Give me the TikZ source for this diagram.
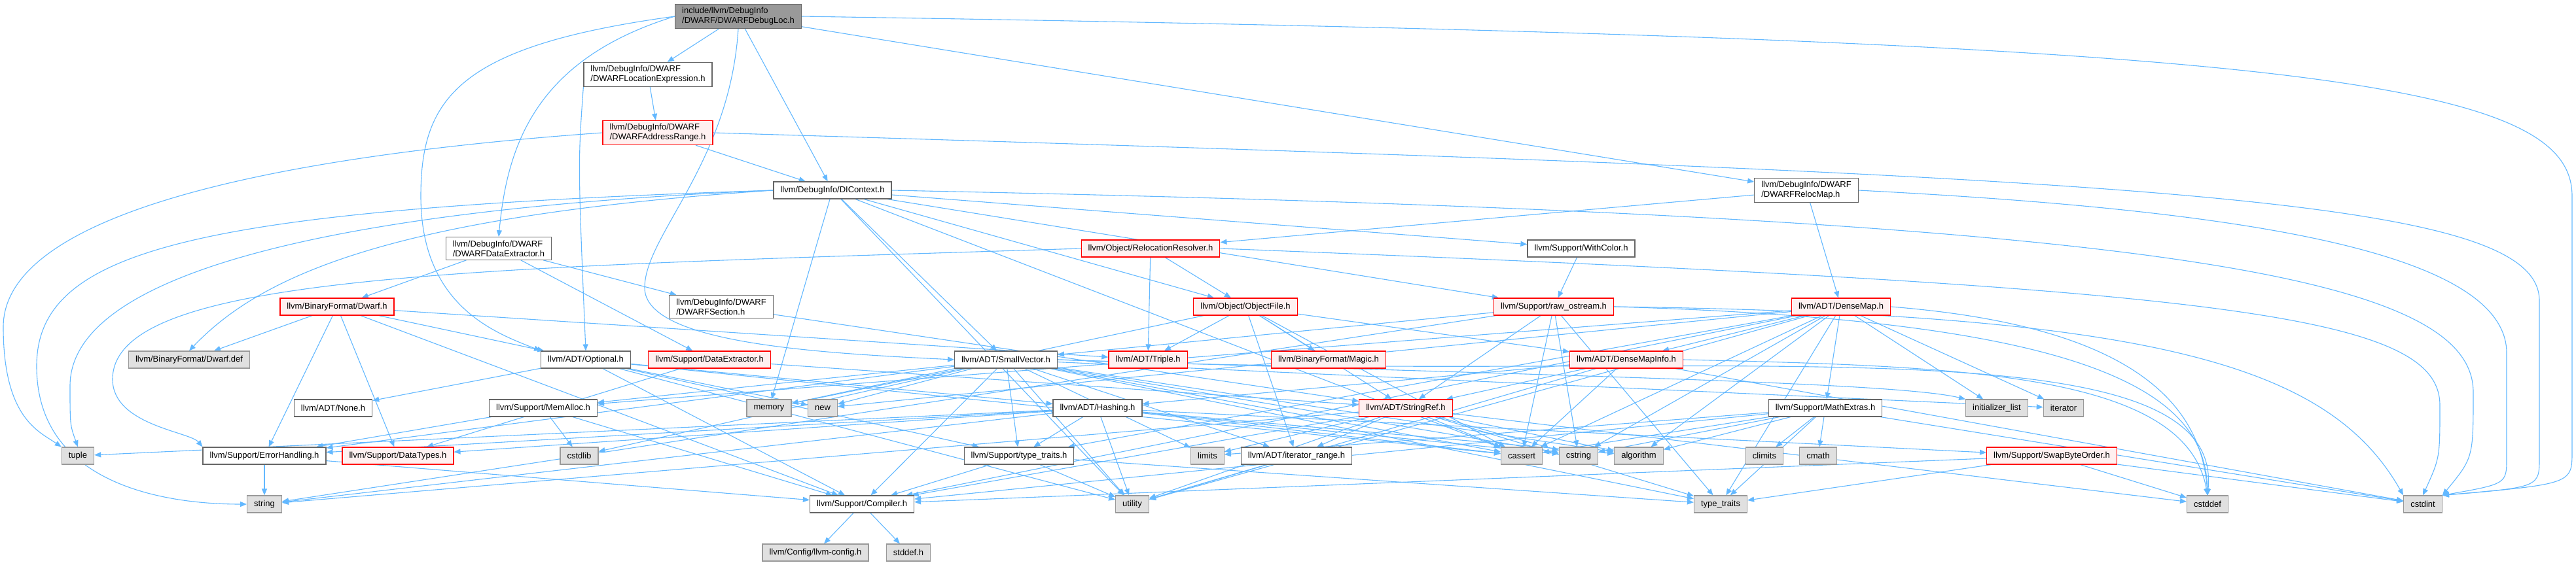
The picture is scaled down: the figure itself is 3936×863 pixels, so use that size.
\documentclass[tikz,border=0pt]{standalone}
\usepackage{fontspec}
\setmainfont{Liberation Sans}
\usetikzlibrary{arrows.meta,backgrounds}

\definecolor{depblue}{HTML}{63B8FF}
\definecolor{boxgray}{HTML}{666666}
\definecolor{sysgray}{HTML}{999999}
\definecolor{sysfill}{HTML}{E0E0E0}
\definecolor{redfill}{HTML}{FFF0F0}
\definecolor{rootfill}{HTML}{999999}

\begin{document}
\begin{tikzpicture}[x=1pt, y=-1pt,
  hdr/.style={draw=boxgray, fill=white, line width=1.2pt, align=left,
    font=\fontsize{13}{15}\selectfont, inner xsep=10.5pt, inner ysep=5pt, minimum height=26pt},
  hdrred/.style={hdr, draw=red, fill=redfill},
  hdrsys/.style={hdr, draw=sysgray, fill=sysfill},
  hdrroot/.style={hdr, fill=rootfill},
  dep/.style={draw=depblue, line width=1.1pt, -{Triangle[length=10pt, width=8pt]}}]
\useasboundingbox (0,0) rectangle (3936,863);

% headers, top to bottom
\node[hdrroot] (root) at (1128,25) {include/llvm/DebugInfo\\/DWARF/DWARFDebugLoc.h};
\node[hdr] (locexpr) at (990,114) {llvm/DebugInfo/DWARF\\/DWARFLocationExpression.h};
\node[hdrred] (addrrange) at (1005,203) {llvm/DebugInfo/DWARF\\/DWARFAddressRange.h};
\node[hdr] (dicontext) at (1272,291) {llvm/DebugInfo/DIContext.h};
\node[hdr] (relocmap) at (2760,291) {llvm/DebugInfo/DWARF\\/DWARFRelocMap.h};
\node[hdr] (dwextract) at (762,380) {llvm/DebugInfo/DWARF\\/DWARFDataExtractor.h};
\node[hdrred] (relocres) at (1758,380) {llvm/Object/RelocationResolver.h};
\node[hdr] (withcolor) at (2416,380) {llvm/Support/WithColor.h};
\node[hdrred] (dwarfh) at (515,469) {llvm/BinaryFormat/Dwarf.h};
\node[hdr] (dwsection) at (1102,469) {llvm/DebugInfo/DWARF\\/DWARFSection.h};
\node[hdrred] (objectfile) at (1903,469) {llvm/Object/ObjectFile.h};
\node[hdrred] (rawostream) at (2374,469) {llvm/Support/raw\_ostream.h};
\node[hdrred] (densemap) at (2813,469) {llvm/ADT/DenseMap.h};
\node[hdrsys] (dwarfdef) at (289,550) {llvm/BinaryFormat/Dwarf.def};
\node[hdr] (optional) at (895,550) {llvm/ADT/Optional.h};
\node[hdrred] (supextract) at (1084,550) {llvm/Support/DataExtractor.h};
\node[hdr] (smallvector) at (1537,550) {llvm/ADT/SmallVector.h};
\node[hdrred] (triple) at (1754,550) {llvm/ADT/Triple.h};
\node[hdrred] (magic) at (2030,550) {llvm/BinaryFormat/Magic.h};
\node[hdrred] (densemapinfo) at (2485,550) {llvm/ADT/DenseMapInfo.h};
\node[hdr] (none) at (509,624) {llvm/ADT/None.h};
\node[hdr] (memalloc) at (830,624) {llvm/Support/MemAlloc.h};
\node[hdrsys] (memory) at (1175,624) {memory};
\node[hdrsys] (new) at (1257,624) {new};
\node[hdr] (hashing) at (1677,624) {llvm/ADT/Hashing.h};
\node[hdrred] (stringref) at (2148,624) {llvm/ADT/StringRef.h};
\node[hdr] (mathextras) at (2789,624) {llvm/Support/MathExtras.h};
\node[hdrsys] (initlist) at (3051,624) {initializer\_list};
\node[hdrsys] (iterator) at (3153,624) {iterator};
\node[hdrsys] (tuple) at (119,697) {tuple};
\node[hdr] (errorhandling) at (404,697) {llvm/Support/ErrorHandling.h};
\node[hdrred] (datatypes) at (608,697) {llvm/Support/DataTypes.h};
\node[hdrsys] (cstdlib) at (885,697) {cstdlib};
\node[hdr] (typetraitsh) at (1557,697) {llvm/Support/type\_traits.h};
\node[hdrsys] (limits) at (1845,697) {limits};
\node[hdr] (iterrange) at (1981,697) {llvm/ADT/iterator\_range.h};
\node[hdrsys] (cassert) at (2325,697) {cassert};
\node[hdrsys] (cstring) at (2412,697) {cstring};
\node[hdrsys] (algorithm) at (2504,697) {algorithm};
\node[hdrsys] (climits) at (2696,697) {climits};
\node[hdrsys] (cmath) at (2778,697) {cmath};
\node[hdrred] (swapbyte) at (3135,697) {llvm/Support/SwapByteOrder.h};
\node[hdrsys] (string) at (404,771) {string};
\node[hdr] (compiler) at (1317,771) {llvm/Support/Compiler.h};
\node[hdrsys] (utility) at (1730,771) {utility};
\node[hdrsys] (typetraits) at (2629,771) {type\_traits};
\node[hdrsys] (cstddef) at (3373,771) {cstddef};
\node[hdrsys] (cstdint) at (3702,771) {cstdint};
\node[hdrsys] (llvmconfig) at (1246,845) {llvm/Config/llvm-config.h};
\node[hdrsys] (stddefh) at (1388,845) {stddef.h};

\begin{scope}[on background layer]
% include edges
\foreach \b in {locexpr,dicontext,relocmap} \draw[dep] (root) -- (\b);
\draw[dep] (root.west) .. controls (700,70) and (643,150) .. (643,300) .. controls (643,470) and (760,510) .. (optional.north west);
\draw[dep] (root.west) .. controls (820,90) and (775,220) .. (dwextract.north);
\draw[dep] (root.south) .. controls (1115,250) and (985,360) .. (985,440) .. controls (985,525) and (1250,540) .. (smallvector.west);
\draw[dep] (root.east) .. controls (3500,60) and (3930,120) .. (3930,300) -- (3930,690) .. controls (3930,740) .. (cstdint.north east);
\draw[dep] (locexpr) -- (addrrange);
\draw[dep] (locexpr.south west) .. controls (883,250) .. (optional.north);
\draw[dep] (addrrange) -- (dicontext);
\draw[dep] (addrrange.west) .. controls (400,240) and (5,330) .. (5,500) .. controls (5,640) and (60,660) .. (tuple.north west);
\draw[dep] (addrrange.east) .. controls (3300,270) and (3880,300) .. (3880,460) -- (3880,700) .. controls (3880,745) .. (cstdint.north east);
\foreach \b in {objectfile,smallvector,withcolor,rawostream,cassert,memory,utility} \draw[dep] (dicontext) -- (\b);
\draw[dep] (dicontext.west) .. controls (300,320) and (56,380) .. (56,560) .. controls (56,740) and (250,771) .. (string.west);
\draw[dep] (dicontext.west) .. controls (500,320) and (107,420) .. (107,590) .. controls (107,650) .. (tuple.north);
\draw[dep] (dicontext.west) .. controls (600,330) and (400,420) .. (dwarfdef.north);
\draw[dep] (dicontext.east) .. controls (3300,330) and (3779,420) .. (3779,600) .. controls (3779,700) .. (cstdint.north east);
\foreach \b in {relocres,densemap} \draw[dep] (relocmap) -- (\b);
\draw[dep] (relocmap.east) .. controls (3400,320) and (3830,380) .. (3830,540) -- (3830,700) .. controls (3830,740) .. (cstdint.north east);
\foreach \b in {dwarfh,dwsection,supextract} \draw[dep] (dwextract) -- (\b);
\foreach \b in {dwarfdef,optional,triple,compiler,errorhandling,datatypes} \draw[dep] (dwarfh) -- (\b);
\draw[dep] (dwsection) -- (stringref);
\foreach \b in {triple,objectfile} \draw[dep] (relocres) -- (\b);
\draw[dep] (relocres.west) .. controls (700,410) and (172,420) .. (172,580) .. controls (172,650) and (290,660) .. (errorhandling.north west);
\draw[dep] (relocres.east) .. controls (3400,440) and (3728,480) .. (3728,620) .. controls (3728,700) .. (cstdint.north);
\draw[dep] (withcolor) -- (rawostream);
\foreach \b in {triple,magic,densemapinfo,stringref,iterrange,cassert,memory} \draw[dep] (objectfile) -- (\b);
\foreach \b in {smallvector,stringref,cassert,cstring,string,typetraits} \draw[dep] (rawostream) -- (\b);
\draw[dep] (rawostream.east) .. controls (3200,490) and (3370,600) .. (cstddef.north);
\draw[dep] (rawostream.east) .. controls (3300,480) and (3560,560) .. (cstdint.north west);
\foreach \b in {densemapinfo,compiler,mathextras,memalloc,typetraitsh,algorithm,cassert,cstring,initlist,iterator,new,typetraits,utility} \draw[dep] (densemap) -- (\b);
\draw[dep] (densemap.east) .. controls (3150,490) and (3360,560) .. (cstddef.north);
\foreach \b in {none,hashing,compiler,typetraitsh,cassert,new,utility} \draw[dep] (optional) -- (\b);
\foreach \b in {stringref,datatypes} \draw[dep] (supextract) -- (\b);
\foreach \b in {iterrange,compiler,errorhandling,memalloc,typetraitsh,algorithm,cassert,cstdlib,cstring,iterator,limits,memory,new,typetraits,utility} \draw[dep] (smallvector) -- (\b);
\draw[dep] (smallvector.east) .. controls (2400,575) and (2900,585) .. (initlist.north west);
\draw[dep] (smallvector.east) .. controls (2600,590) and (3400,480) .. (cstddef.north);
\foreach \b in {hashing,stringref,cassert,cstdint,utility} \draw[dep] (densemapinfo) -- (\b);
\draw[dep] (densemapinfo.east) .. controls (3000,560) and (3340,570) .. (cstddef.north);
\foreach \b in {datatypes,errorhandling,swapbyte,typetraitsh,algorithm,cassert,cstring,string,tuple,utility} \draw[dep] (hashing) -- (\b);
\foreach \b in {iterrange,compiler,algorithm,cassert,cstddef,cstring,limits,string,typetraits,utility} \draw[dep] (stringref) -- (\b);
\foreach \b in {compiler,algorithm,cassert,climits,cmath,cstdint,cstring,limits,typetraits} \draw[dep] (mathextras) -- (\b);
\foreach \b in {compiler,typetraits,cstddef,cstdint} \draw[dep] (swapbyte) -- (\b);
\draw[dep] (iterrange) -- (utility);
\foreach \b in {compiler,errorhandling,cstdlib} \draw[dep] (memalloc) -- (\b);
\foreach \b in {compiler,string} \draw[dep] (errorhandling) -- (\b);
\foreach \b in {compiler,typetraits,utility} \draw[dep] (typetraitsh) -- (\b);
\foreach \b in {llvmconfig,stddefh} \draw[dep] (compiler) -- (\b);
\end{scope}
\end{tikzpicture}
\end{document}
